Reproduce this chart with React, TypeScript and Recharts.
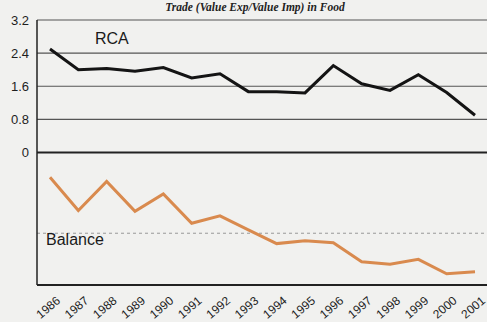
import { LineChart, Line, XAxis, YAxis, ReferenceLine } from "recharts";

const years = ["1986", "1987", "1988", "1989", "1990", "1991", "1992", "1993", "1994", "1995", "1996", "1997", "1998", "1999", "2000", "2001"];
const rca = [2.5, 2.0, 2.03, 1.96, 2.05, 1.8, 1.9, 1.47, 1.47, 1.44, 2.1, 1.66, 1.5, 1.88, 1.45, 0.9];
const balance = [-0.6, -1.4, -0.7, -1.42, -1.0, -1.71, -1.53, -1.87, -2.2, -2.13, -2.18, -2.64, -2.7, -2.58, -2.93, -2.88];
const yTicks = [0, 0.8, 1.6, 2.4, 3.2];

const data = years.map((year, i) => ({ year, rca: rca[i], balance: balance[i] }));

function YearTick(props: any) {
  const { x, y, payload } = props;
  return (
    <text
      transform={`translate(${x + 11},${y + 9}) rotate(-40)`}
      textAnchor="end"
      fontSize={12}
      fill="#1e1e1e"
      fontFamily="Liberation Sans, Arial, sans-serif"
    >
      {payload.value}
    </text>
  );
}

export default function App() {
  return (
    <div style={{ position: "fixed", left: 0, top: 0, width: 487, height: 322, background: "#f1f1ef", overflow: "hidden" }}>
      <svg width={487} height={20} style={{ position: "absolute", left: 0, top: 0 }}>
        <text x={255} y={11} textAnchor="middle" fontSize={11.5} fontWeight="bold" fontStyle="italic" fontFamily="Liberation Serif, Times New Roman, serif" fill="#222">
          Trade (Value Exp/Value Imp) in Food
        </text>
      </svg>
      <LineChart width={487} height={322} data={data} margin={{ top: 20, right: 0, bottom: 0, left: 0 }}>
        <XAxis
          dataKey="year"
          interval={0}
          height={37}
          padding={{ left: 13, right: 12 }}
          axisLine={{ stroke: "#222", strokeWidth: 2 }}
          tickLine={false}
          tick={<YearTick />}
        />
        <YAxis
          type="number"
          domain={[-3.2, 3.2]}
          ticks={yTicks}
          width={37}
          axisLine={{ stroke: "#222", strokeWidth: 1.5 }}
          tickLine={false}
          tick={{ fontSize: 13, fill: "#1e1e1e", fontFamily: "Liberation Sans, Arial, sans-serif" }}
        />
        {yTicks.slice(1).map((t) => (
          <ReferenceLine key={t} y={t} stroke="#555" strokeWidth={1.2} />
        ))}
        <ReferenceLine y={0} stroke="#222" strokeWidth={2} />
        <ReferenceLine y={-1.95} stroke="#999" strokeWidth={1} strokeDasharray="3 3" />
        <Line dataKey="rca" stroke="#141414" strokeWidth={3} dot={false} isAnimationActive={false} />
        <Line dataKey="balance" stroke="#d98a4e" strokeWidth={3} dot={false} isAnimationActive={false} />
      </LineChart>
      <div style={{ position: "absolute", left: 95, top: 30, fontSize: 16, fontFamily: "Liberation Sans, Arial, sans-serif", color: "#1a1a1a" }}>RCA</div>
      <div style={{ position: "absolute", left: 46, top: 231, fontSize: 16, fontFamily: "Liberation Sans, Arial, sans-serif", color: "#1a1a1a" }}>Balance</div>
    </div>
  );
}
